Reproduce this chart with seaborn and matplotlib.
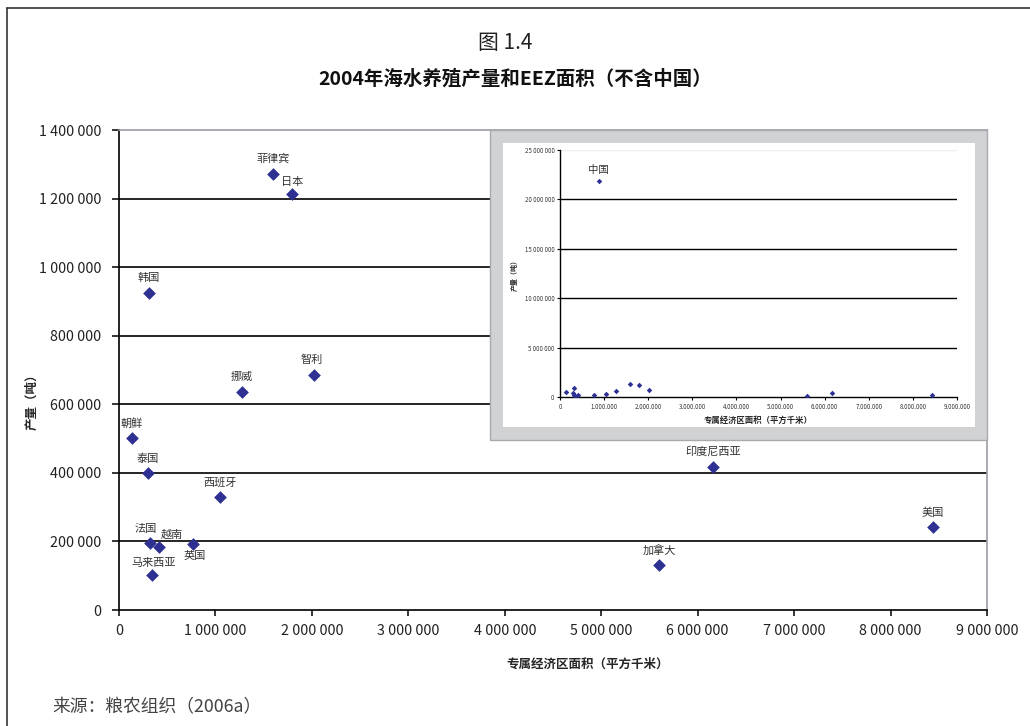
import matplotlib
matplotlib.use("Agg")
import matplotlib.pyplot as plt
import matplotlib.ticker as mticker
from matplotlib.patches import Rectangle
from matplotlib.lines import Line2D
import seaborn as sns
import pandas as pd

# ---------------- data ----------------
countries = ["菲律宾", "日本", "韩国", "挪威", "智利", "朝鲜", "泰国", "西班牙",
             "法国", "越南", "英国", "马来西亚", "印度尼西亚", "美国", "加拿大"]
eez_km2 = [1597000, 1794000, 311000, 1275000, 2022000, 135000, 301000, 1047000,
           321000, 415000, 767000, 342000, 6159000, 8440000, 5599000]
production_t = [1272000, 1213000, 925000, 636000, 685000, 502000, 400000, 330000,
                195000, 184000, 193000, 102000, 417000, 242000, 131000]

china_name = "中国"
china_eez = 880000
china_prod = 21900000

y_ticks_main = [0, 200000, 400000, 600000, 800000, 1000000, 1200000, 1400000]
x_ticks = [0, 1000000, 2000000, 3000000, 4000000, 5000000, 6000000, 7000000, 8000000, 9000000]
y_ticks_inset = [0, 5000000, 10000000, 15000000, 20000000, 25000000]

# label offsets (points) - styling only
label_offsets = {
    "菲律宾": (0, 11), "日本": (0, 9), "韩国": (0, 11), "挪威": (0, 11),
    "智利": (-2, 11), "朝鲜": (0, 10), "泰国": (0, 10), "西班牙": (0, 10),
    "法国": (-3, 10), "越南": (9, 9), "英国": (1, -9), "马来西亚": (1, 9),
    "印度尼西亚": (0, 11), "美国": (0, 10), "加拿大": (0, 11),
}

df = pd.DataFrame({"country": countries, "eez": eez_km2, "prod": production_t})
df_all = pd.concat([df, pd.DataFrame({"country": [china_name], "eez": [china_eez],
                                      "prod": [china_prod]})], ignore_index=True)

sns.set_theme(style="white")
plt.rcParams["font.family"] = ["Noto Sans CJK SC", "DejaVu Sans"]

W, H = 1030, 726
fig = plt.figure(figsize=(W / 100, H / 100), dpi=100)
fig.patch.set_facecolor("white")

def fx(px):
    return px / W

def fy(py):
    return 1 - py / H

blue = "#2E3192"
space_fmt = mticker.FuncFormatter(lambda v, p: f"{int(v):,}".replace(",", " "))
dot_fmt = mticker.FuncFormatter(lambda v, p: f"{int(v):,}".replace(",", "."))

# ---------------- main axes ----------------
ax = fig.add_axes([fx(119), fy(610), fx(987) - fx(119), fy(130) - fy(610)])
ax.set_facecolor("white")
sns.scatterplot(data=df, x="eez", y="prod", marker="D", color=blue, s=42,
                linewidth=0, ax=ax, zorder=3, legend=False)
ax.set_xlim(0, 9000000)
ax.set_ylim(0, 1400000)
ax.set_xticks(x_ticks)
ax.set_yticks(y_ticks_main)
ax.xaxis.set_major_formatter(space_fmt)
ax.yaxis.set_major_formatter(space_fmt)
for yv in y_ticks_main[1:-1]:
    ax.axhline(yv, color="black", lw=1.2, zorder=1)
for s in ["left", "bottom"]:
    ax.spines[s].set_color("black")
    ax.spines[s].set_linewidth(1.2)
for s in ["top", "right"]:
    ax.spines[s].set_color("#9a9ea6")
    ax.spines[s].set_linewidth(1.2)
ax.tick_params(axis="y", direction="out", length=5, width=1.1, color="black",
               pad=8, labelsize=10.3, labelcolor="#222222", left=True)
ax.tick_params(axis="x", direction="out", length=4, width=1.1, color="black",
               pad=6, labelsize=10.3, labelcolor="#222222", bottom=True)
ax.set_xlabel("专属经济区面积（平方千米）", fontsize=9, fontweight="bold")
ax.xaxis.set_label_coords(0.54, -0.10)
ax.set_ylabel("产量（吨）", fontsize=9, fontweight="bold")
ax.yaxis.set_label_coords(-0.093, 0.44)
ax.grid(False)

for c, xv, yv in zip(countries, eez_km2, production_t):
    dx, dy = label_offsets[c]
    ax.annotate(c, (xv, yv), xytext=(dx, dy), textcoords="offset points",
                ha="center", va="center", fontsize=8, color="#333333", zorder=4)

# ---------------- inset frame ----------------
fig.add_artist(Rectangle((fx(490), fy(440)), fx(987) - fx(490), fy(130) - fy(440),
                         transform=fig.transFigure, facecolor="#d1d2d4",
                         edgecolor="#a8aab0", lw=1.0, zorder=5))
fig.add_artist(Rectangle((fx(503), fy(427)), fx(975) - fx(503), fy(143) - fy(427),
                         transform=fig.transFigure, facecolor="white",
                         edgecolor="none", zorder=6))

axi = fig.add_axes([fx(560), fy(397), fx(957) - fx(560), fy(150) - fy(397)], zorder=7)
axi.set_facecolor("white")
sns.scatterplot(data=df_all, x="eez", y="prod", marker="D", color=blue, s=8,
                linewidth=0, ax=axi, zorder=3, legend=False)
axi.set_xlim(0, 9000000)
axi.set_ylim(0, 25000000)
axi.set_xticks(x_ticks)
axi.set_yticks(y_ticks_inset)
axi.xaxis.set_major_formatter(dot_fmt)
axi.yaxis.set_major_formatter(space_fmt)
for yv in y_ticks_inset[1:-1]:
    axi.axhline(yv, color="black", lw=1.0, zorder=1)
axi.axhline(y_ticks_inset[-1], color="#eeeeee", lw=1.0, zorder=1)
for s in ["left", "bottom"]:
    axi.spines[s].set_color("black")
    axi.spines[s].set_linewidth(1.0)
for s in ["top", "right"]:
    axi.spines[s].set_visible(False)
axi.tick_params(axis="both", direction="out", length=2.5, width=0.8, color="black",
                pad=1.5, labelsize=4.4, labelcolor="#333333", left=True, bottom=True)
axi.set_xlabel("专属经济区面积（平方千米）", fontsize=6, fontweight="bold", labelpad=4)
axi.set_ylabel("产量（吨）", fontsize=5, fontweight="bold", labelpad=5)
axi.grid(False)
axi.annotate(china_name, (china_eez, china_prod), xytext=(0, 8), textcoords="offset points",
             ha="center", va="center", fontsize=7.5, color="#333333")

# ---------------- titles & source ----------------
fig.text(fx(505), fy(43), "图 1.4", ha="center", va="center", fontsize=15, color="#222222")
fig.text(fx(515), fy(79), "2004年海水养殖产量和EEZ面积（不含中国）", ha="center", va="center",
         fontsize=14, fontweight="bold", color="#111111")
fig.text(fx(52), fy(707), "来源：粮农组织（2006a）", ha="left", va="center",
         fontsize=12.8, color="#444444")

# ---------------- outer frame ----------------
fig.add_artist(Line2D([fx(7), fx(7)], [fy(8), 0], transform=fig.transFigure,
                      color="#333333", lw=1.2))
fig.add_artist(Line2D([fx(7), 1], [fy(8), fy(8)], transform=fig.transFigure,
                      color="#333333", lw=1.2))

fig.savefig("out.png", dpi=100, facecolor="white")
